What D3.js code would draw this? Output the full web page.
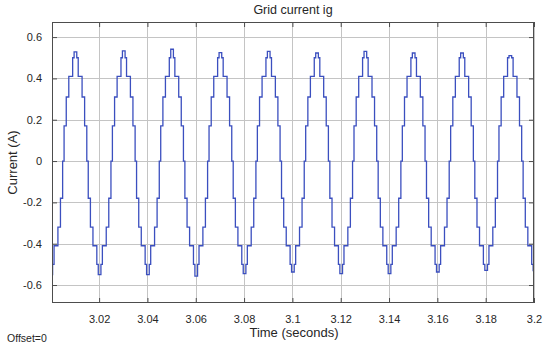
<!DOCTYPE html>
<html>
<head>
<meta charset="utf-8">
<script src="https://cdn.jsdelivr.net/npm/d3@7"></script>
<style>
  body { margin: 0; background: #fff; }
  svg text { font-family: "Liberation Sans", Arial, sans-serif; fill: #262626; }
</style>
</head>
<body>
<svg id="chart" width="550" height="353"></svg>
<script>
// values
const xTicks = [3.02, 3.04, 3.06, 3.08, 3.1, 3.12, 3.14, 3.16, 3.18, 3.2];
const yTicks = [0.6, 0.4, 0.2, 0, -0.2, -0.4, -0.6];

// rising zero crossing of every cycle (s)
const zeroCrossings = [3.0052, 3.0252, 3.0452, 3.0652, 3.0852, 3.1052, 3.1252, 3.1452, 3.1652, 3.1852, 3.2052];
// top step of each cycle and the trough just before it (A)
const peakLevels = [0.528, 0.533, 0.541, 0.525, 0.531, 0.523, 0.531, 0.523, 0.523, 0.510, 0.52];
const troughLevels = [-0.55, -0.550, -0.550, -0.557, -0.545, -0.537, -0.545, -0.545, -0.537, -0.529, -0.53];

// one cycle of the staircase: switching instants (ms from zero crossing) and the level that follows
// "T" = trough of that cycle, "P" = peak of that cycle
const stepEdgesMs = [-5.55, -4.45, -3.85, -2.25, -1.2, -0.3, 0.3, 1.2, 2.25, 3.85, 4.45,
                     5.55, 6.15, 7.75, 8.8, 9.7, 10.3, 11.2, 12.25, 13.85];
const stepLevels = ["T", -0.50, -0.41, -0.32, -0.18, 0, 0.17, 0.31, 0.41, 0.50, "P",
                    0.50, 0.41, 0.31, 0.17, 0, -0.18, -0.32, -0.41, -0.50];

const svg = d3.select("#chart");
const plotL = 52, plotR = 534, plotT = 22, plotB = 303;

const x = d3.scaleLinear().domain([3.0005, 3.2]).range([plotL, plotR]);
const y = d3.scaleLinear().domain([-0.687, 0.673]).range([plotB, plotT]);

// build the series from the cycle table
const points = [];
zeroCrossings.forEach((z, k) => {
    stepEdgesMs.forEach((ms, i) => {
        let v = stepLevels[i];
        if (v === "T") v = troughLevels[k];
        if (v === "P") v = peakLevels[k];
        points.push([z + ms / 1000, v]);
    });
});
points.push([points[points.length - 1][0] + 0.0006, points[points.length - 1][1]]);

svg.append("defs").append("clipPath").attr("id", "plotclip")
    .append("rect").attr("x", plotL).attr("y", plotT).attr("width", plotR - plotL).attr("height", plotB - plotT);

// grid
const grid = svg.append("g").attr("stroke", "#c4c4c4").attr("stroke-width", 1);
grid.selectAll(".gx").data(xTicks).enter().append("line")
    .attr("x1", d => Math.round(x(d)) + 0.5).attr("x2", d => Math.round(x(d)) + 0.5)
    .attr("y1", plotT).attr("y2", plotB);
grid.selectAll(".gy").data(yTicks).enter().append("line")
    .attr("y1", d => Math.round(y(d)) + 0.5).attr("y2", d => Math.round(y(d)) + 0.5)
    .attr("x1", plotL).attr("x2", plotR);

// waveform
svg.append("path").datum(points)
    .attr("clip-path", "url(#plotclip)")
    .attr("fill", "none").attr("stroke", "#3b4fbf").attr("stroke-width", 1.3)
    .attr("d", d3.line().x(d => x(d[0])).y(d => y(d[1])).curve(d3.curveStepAfter));

// box with inward ticks
const fmt = d => d === 0 ? "0" : String(d);
svg.append("g").attr("transform", `translate(0,${plotB})`)
    .call(d3.axisBottom(x).tickValues(xTicks).tickSizeInner(-5).tickSizeOuter(0).tickPadding(12).tickFormat(fmt))
    .call(g => g.select(".domain").remove());
svg.append("g").attr("transform", `translate(0,${plotT})`)
    .call(d3.axisTop(x).tickValues(xTicks).tickSizeInner(-5).tickSizeOuter(0).tickFormat(""))
    .call(g => g.select(".domain").remove());
svg.append("g").attr("transform", `translate(${plotL},0)`)
    .call(d3.axisLeft(y).tickValues(yTicks).tickSizeInner(-5).tickSizeOuter(0).tickPadding(10).tickFormat(fmt))
    .call(g => g.select(".domain").remove());
svg.append("g").attr("transform", `translate(${plotR},0)`)
    .call(d3.axisRight(y).tickValues(yTicks).tickSizeInner(-5).tickSizeOuter(0).tickFormat(""))
    .call(g => g.select(".domain").remove());
svg.selectAll(".tick line").attr("stroke", "#4d4d4d");
svg.selectAll(".tick text").style("font-size", "11px").attr("fill", "#262626");

svg.append("rect").attr("x", plotL + 0.5).attr("y", plotT + 0.5)
    .attr("width", plotR - plotL - 1).attr("height", plotB - plotT - 1)
    .attr("fill", "none").attr("stroke", "#4d4d4d").attr("stroke-width", 1);

// texts
svg.append("text").attr("x", 293).attr("y", 14).attr("text-anchor", "middle")
    .style("font-size", "12.5px").text("Grid current ig");
svg.append("text").attr("x", 294).attr("y", 337).attr("text-anchor", "middle")
    .style("font-size", "13px").text("Time (seconds)");
svg.append("text").attr("transform", `translate(17,${(plotT + plotB) / 2}) rotate(-90)`)
    .attr("text-anchor", "middle").style("font-size", "13px").text("Current (A)");
svg.append("text").attr("x", 7).attr("y", 342).style("font-size", "10.5px").text("Offset=0");
</script>
</body>
</html>
